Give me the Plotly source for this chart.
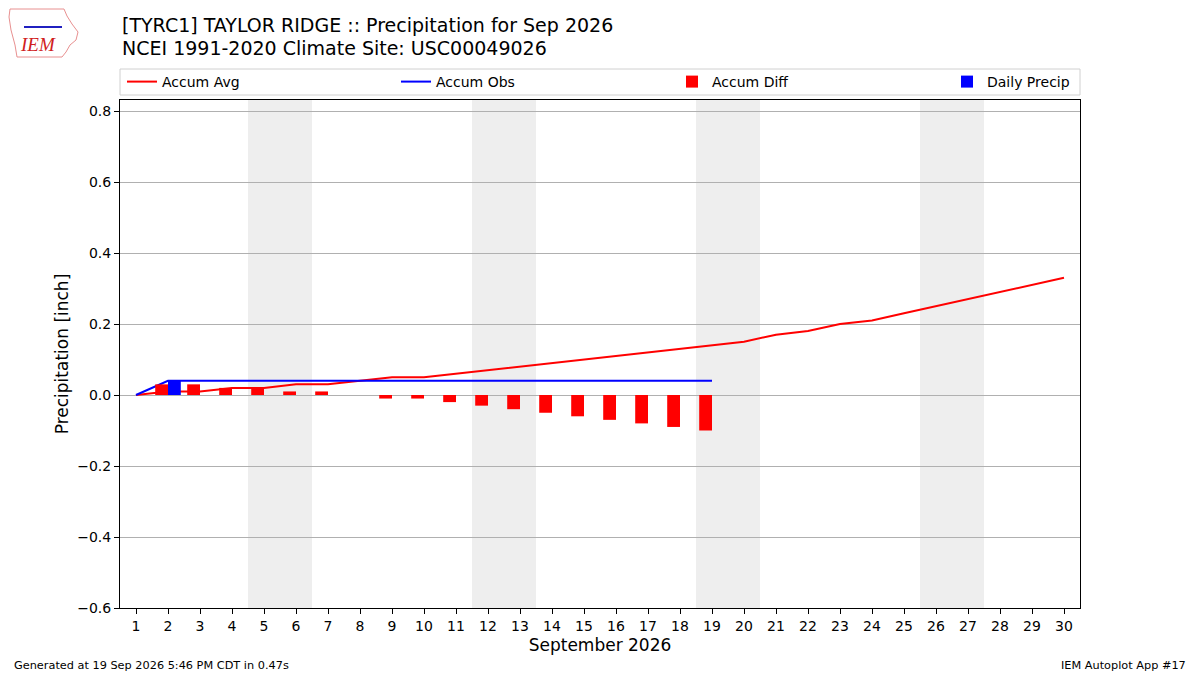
import plotly.graph_objects as go

# September 2026 values
days = list(range(1, 31))
accum_avg = [0.00, 0.01, 0.01, 0.02, 0.02, 0.03, 0.03, 0.04, 0.05, 0.05,
             0.06, 0.07, 0.08, 0.09, 0.10, 0.11, 0.12, 0.13, 0.14, 0.15,
             0.17, 0.18, 0.20, 0.21, 0.23, 0.25, 0.27, 0.29, 0.31, 0.33]
obs_days = list(range(1, 20))
accum_obs = [0.00] + [0.04] * 18
daily_precip = [0.00, 0.04] + [0.00] * 17
accum_diff = [0.00, 0.03, 0.03, 0.02, 0.02, 0.01, 0.01, 0.00, -0.01, -0.01,
              -0.02, -0.03, -0.04, -0.05, -0.06, -0.07, -0.08, -0.09, -0.10]
weekend_starts = [5, 12, 19, 26]
y_ticks = [-0.6, -0.4, -0.2, 0.0, 0.2, 0.4, 0.6, 0.8]

FONT = "DejaVu Sans"
W, H = 1200, 675
L, R, T, B = 120, 1080, 100, 608
X_RANGE = [0.5, 30.5]
Y_RANGE = [-0.6, 0.831]


def px(x):
    return (x - L) / (R - L)


def py(y):
    return (B - y) / (B - T)


fig = go.Figure()
fig.add_trace(go.Scatter(x=days, y=accum_avg, name="Accum Avg", mode="lines",
                         line=dict(color="red", width=2), legend="legend", showlegend=True))
fig.add_trace(go.Scatter(x=obs_days, y=accum_obs, name="Accum Obs", mode="lines",
                         line=dict(color="blue", width=2), legend="legend2"))
# bars go on an overlaid axis pair so they sit above the lines
fig.add_trace(go.Bar(x=obs_days, y=accum_diff, name="Accum Diff", marker_color="red",
                     marker_line_width=0, width=0.4, offset=-0.4, legend="legend3",
                     xaxis="x2", yaxis="y2"))
fig.add_trace(go.Bar(x=obs_days, y=daily_precip, name="Daily Precip", marker_color="blue",
                     marker_line_width=0, width=0.4, offset=0, legend="legend4",
                     xaxis="x2", yaxis="y2"))

shapes = []
for d in weekend_starts:
    shapes.append(dict(type="rect", xref="x", yref="paper", x0=d - 0.5, x1=d + 1.5,
                       y0=0, y1=1, fillcolor="#eeeeee", line_width=0, layer="below"))
# legend frame
shapes.append(dict(type="rect", xref="paper", yref="paper", x0=0, x1=1,
                   y0=py(95), y1=py(69), line=dict(color="#d0d0d0", width=1)))
# rough logo outline
outline = [(10, 9), (64, 9), (67, 16), (72, 24), (78, 32), (76, 40), (70, 45),
           (66, 52), (62, 57), (17, 57), (15, 45), (11, 30), (9, 17)]
path = "M " + " L ".join(f"{px(a)},{py(b)}" for a, b in outline) + " Z"
shapes.append(dict(type="path", xref="paper", yref="paper", path=path,
                   line=dict(color="#e89090", width=1)))
shapes.append(dict(type="line", xref="paper", yref="paper", x0=px(24), x1=px(62),
                   y0=py(27), y1=py(27), line=dict(color="#2020c0", width=2)))

leg = dict(orientation="h", yanchor="middle", y=py(82), xanchor="left",
           bgcolor="rgba(0,0,0,0)", borderwidth=0, font=dict(family=FONT, size=14, color="black"))

fig.update_layout(
    width=W, height=H,
    margin=dict(l=L, r=W - R, t=T, b=H - B),
    paper_bgcolor="white", plot_bgcolor="white",
    font=dict(family=FONT, color="black"),
    barmode="overlay",
    showlegend=True,
    shapes=shapes,
    legend=dict(leg, x=px(122)),
    legend2=dict(leg, x=px(396)),
    legend3=dict(leg, x=px(672)),
    legend4=dict(leg, x=px(947)),
    xaxis=dict(range=X_RANGE, tickmode="array", tickvals=days,
               ticks="outside", ticklen=5, tickcolor="black", showgrid=False,
               zeroline=False, showline=True, linecolor="black", mirror=True,
               tickfont=dict(family=FONT, size=14),
               title=dict(text="September 2026", font=dict(family=FONT, size=17), standoff=6)),
    yaxis=dict(range=Y_RANGE, tickmode="array", tickvals=y_ticks, tickformat=".1f",
               ticks="outside", ticklen=5, tickcolor="black", showgrid=True,
               gridcolor="#b0b0b0", zeroline=False, showline=True, linecolor="black",
               mirror=True, tickfont=dict(family=FONT, size=14),
               title=dict(text="Precipitation [inch]", font=dict(family=FONT, size=17), standoff=4)),
    xaxis2=dict(overlaying="x", range=X_RANGE, visible=False),
    yaxis2=dict(overlaying="y", range=Y_RANGE, visible=False),
    annotations=[
        dict(text="[TYRC1] TAYLOR RIDGE :: Precipitation for Sep 2026", xref="paper", yref="paper",
             x=0, y=py(25), xanchor="left", yanchor="middle", showarrow=False,
             font=dict(family=FONT, size=19)),
        dict(text="NCEI 1991-2020 Climate Site: USC00049026", xref="paper", yref="paper",
             x=0, y=py(48), xanchor="left", yanchor="middle", showarrow=False,
             font=dict(family=FONT, size=19)),
        dict(text="<i>IEM</i>", xref="paper", yref="paper", x=px(38), y=py(45),
             xanchor="center", yanchor="middle", showarrow=False,
             font=dict(family="Liberation Serif", size=19, color="#d02020")),
        dict(text="Generated at 19 Sep 2026 5:46 PM CDT in 0.47s", xref="paper", yref="paper",
             x=px(12), y=py(665), xanchor="left", yanchor="middle", showarrow=False,
             font=dict(family=FONT, size=11.3)),
        dict(text="IEM Autoplot App #17", xref="paper", yref="paper",
             x=px(1188), y=py(665), xanchor="right", yanchor="middle", showarrow=False,
             font=dict(family=FONT, size=11.3)),
    ],
)

fig.write_html("out.html", config={"displayModeBar": False},
               post_script="document.body.style.margin = '0';")
